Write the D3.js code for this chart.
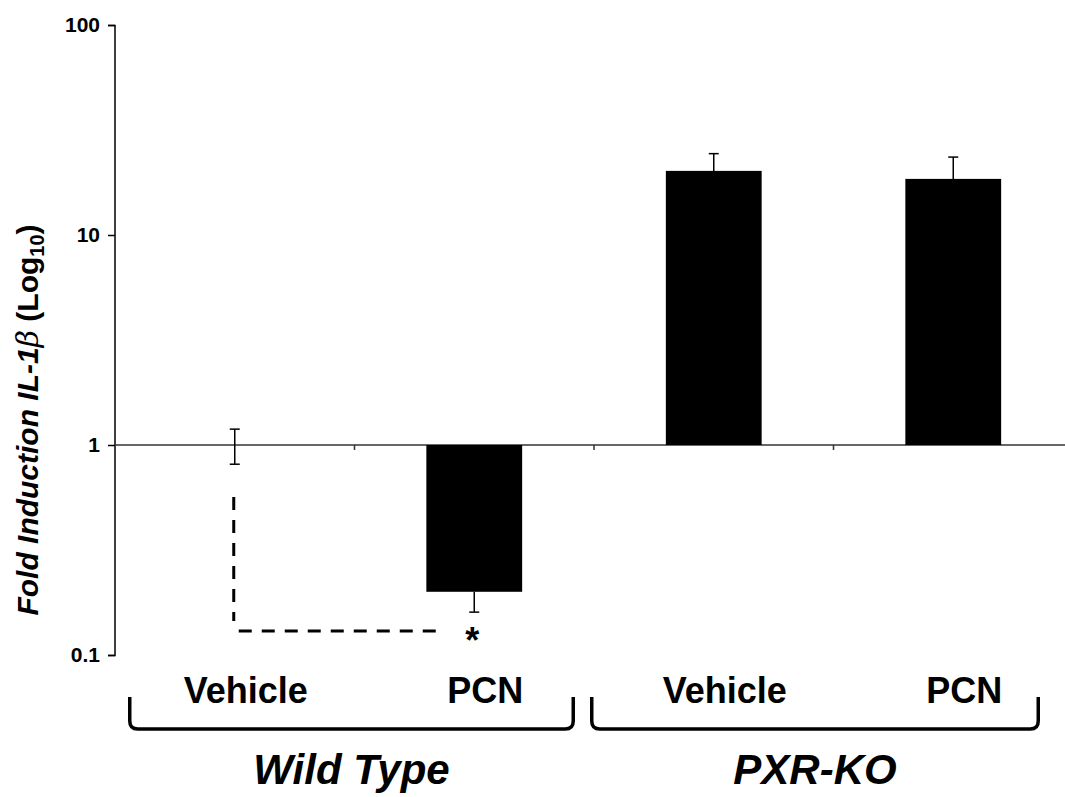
<!DOCTYPE html>
<html><head><meta charset="utf-8">
<script src="https://cdn.jsdelivr.net/npm/d3@7"></script>
<style>html,body{margin:0;padding:0;background:#fff;}svg{display:block;font-family:Arial,"Liberation Sans",sans-serif;}</style>
</head><body>
<svg id="chart" width="1065" height="797"></svg>
<script>
// ---- data ----
const categories = ["Vehicle", "PCN", "Vehicle", "PCN"];
const groups = ["Wild Type", "PXR-KO"];
const groupOf = [0, 0, 1, 1];
const values = [1.0, 0.20, 20.2, 18.5];
const errLower = [0.81, 0.16, null, null];
const errUpper = [1.19, null, 24.4, 23.5];
const yTicks = [0.1, 1, 10, 100];
const yTickLabels = ["0.1", "1", "10", "100"];

// ---- scales ----
const svg = d3.select("#chart");
const y = d3.scaleLog().domain([0.1, 100]).range([655, 25]);
const x = d3.scaleBand().domain(d3.range(categories.length)).range([115, 1073]).paddingInner(0.6).paddingOuter(0.3);
const cx = i => x(i) + x.bandwidth() / 2;
const step = x.step();

// y axis
const yAxis = d3.axisLeft(y).tickValues(yTicks).tickFormat((d, i) => yTickLabels[i]).tickSize(7).tickPadding(8);
const gy = svg.append("g").attr("transform", "translate(115,0)").call(yAxis);
gy.select(".domain").attr("stroke", "#000").attr("stroke-width", 1.5).attr("d", "M-7,25.5H0V655.5H-7");
gy.selectAll(".tick line").attr("stroke", "#000").attr("stroke-width", 1.5);
gy.selectAll(".tick text").attr("font-size", 21).attr("font-weight", "bold").attr("fill", "#000");

// baseline at 1
const base = y(1);
svg.append("line").attr("x1", 115).attr("x2", 1065).attr("y1", base).attr("y2", base)
  .attr("stroke", "#333").attr("stroke-width", 1.5);
// category boundary ticks
svg.selectAll("line.bt").data(d3.range(1, categories.length)).join("line").attr("class", "bt")
  .attr("x1", i => cx(i) - step / 2).attr("x2", i => cx(i) - step / 2)
  .attr("y1", base).attr("y2", base + 5).attr("stroke", "#333").attr("stroke-width", 1.5);

// bars
svg.selectAll("rect.bar").data(values).join("rect").attr("class", "bar")
  .attr("x", (d, i) => x(i)).attr("width", x.bandwidth())
  .attr("y", d => Math.min(y(d), base)).attr("height", d => Math.abs(y(d) - base))
  .attr("fill", "#000");

// error bars
const errs = [];
values.forEach((v, i) => {
  if (errLower[i] != null) errs.push({i, v, e: errLower[i]});
  if (errUpper[i] != null) errs.push({i, v, e: errUpper[i]});
});
const eg = svg.append("g").attr("stroke", "#000").attr("stroke-width", 1.5);
eg.selectAll("line.w").data(errs).join("line")
  .attr("x1", d => cx(d.i)).attr("x2", d => cx(d.i)).attr("y1", d => y(d.v)).attr("y2", d => y(d.e));
eg.selectAll("line.c").data(errs).join("line")
  .attr("x1", d => cx(d.i) - 5).attr("x2", d => cx(d.i) + 5).attr("y1", d => y(d.e)).attr("y2", d => y(d.e));

// significance dashed bracket
const sig = svg.append("g").attr("stroke", "#000").attr("stroke-width", 3).attr("stroke-dasharray", "13,10").attr("fill", "none");
sig.append("line").attr("x1", cx(0) - 1).attr("x2", cx(0) - 1).attr("y1", y(0.565)).attr("y2", y(0.145));
sig.append("line").attr("x1", cx(0) + 4).attr("x2", cx(1) - 32).attr("y1", y(0.13)).attr("y2", y(0.13));
svg.append("text").attr("x", cx(1) - 2).attr("y", y(0.13) + 22).attr("text-anchor", "middle")
  .attr("font-size", 36).attr("font-weight", "bold").text("*");

// category labels
svg.selectAll("text.cat").data(categories).join("text").attr("class", "cat")
  .attr("x", (d, i) => cx(i) + 11).attr("y", 703).attr("text-anchor", "middle")
  .attr("font-size", 36).attr("font-weight", "bold").attr("fill", "#000").text(d => d);

// group brackets
const gExt = groups.map((g, gi) => {
  const idx = d3.range(categories.length).filter(i => groupOf[i] === gi);
  return {g, i0: d3.min(idx), i1: d3.max(idx)};
});
const insetL = [105, 122], insetR = [99, 85];
gExt.forEach((d, gi) => {
  const l = cx(d.i0) - insetL[gi], r = cx(d.i1) + insetR[gi];
  const top = 697, bot = 729, rr = 8;
  svg.append("path").attr("fill", "none").attr("stroke", "#000").attr("stroke-width", 3.5)
    .attr("d", `M${l},${top}V${bot - rr}Q${l},${bot} ${l + rr},${bot}H${r - rr}Q${r},${bot} ${r},${bot - rr}V${top}`);
  svg.append("text").attr("x", (l + r) / 2).attr("y", 784).attr("text-anchor", "middle")
    .attr("font-size", 42).attr("font-weight", "bold").attr("font-style", "italic").text(d.g);
});

// y title
const yt = svg.append("text").attr("transform", "translate(38,420) rotate(-90)")
  .attr("text-anchor", "middle").attr("font-size", 30).attr("font-weight", "bold").attr("fill", "#000");
yt.append("tspan").attr("font-style", "italic").text("Fold Induction IL-1");
yt.append("tspan").attr("font-style", "italic").attr("font-weight", "normal").attr("font-family", "'DejaVu Serif','Liberation Serif',serif").text("β");
yt.append("tspan").text(" (Log");
yt.append("tspan").attr("font-size", 20).attr("dy", 6).text("10");
yt.append("tspan").attr("dy", -6).text(")");
</script>
</body></html>
